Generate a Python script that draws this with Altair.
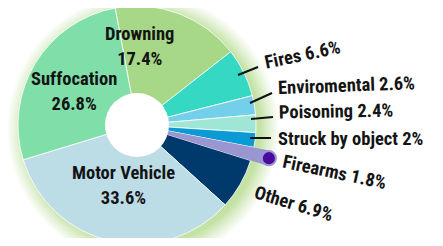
import math
import altair as alt
import pandas as pd

# ---- data ----
categories = ["Drowning", "Fires", "Enviromental", "Poisoning", "Struck by object",
              "Firearms", "Other", "Motor Vehicle", "Suffocation"]
values = [17.4, 6.6, 2.6, 2.4, 2.0, 1.8, 6.9, 33.6, 26.8]
value_labels = ["17.4%", "6.6%", "2.6%", "2.4%", "2%", "1.8%", "6.9%", "33.6%", "26.8%"]
colors = ["#a6d888", "#35d8c3", "#74cfea", "#9fe6d6", "#0a9ad4",
          "#9a96d2", "#003a6c", "#bddde6", "#80dfa9"]

# ---- layout ----
W, H = 427, 230
CX, CY = 129, 117
R, R_IN, R_FIRE = 119, 32, 136
T0 = math.radians(-10.6)
FONT = "Roboto Condensed, Liberation Sans Narrow, Roboto, sans-serif"
TXT = "#141414"

df = pd.DataFrame({"cat": categories, "value": values, "label": value_labels,
                   "idx": list(range(len(categories)))})
total = sum(values)
mid = {}
acc = 0.0
for c, v in zip(categories, values):
    mid[c] = T0 + 2 * math.pi * (acc + v / 2) / total
    acc += v


def polar(theta, r):
    return CX + r * math.sin(theta), CY - r * math.cos(theta)


theta_enc = alt.Theta("value:Q", stack=True,
                      scale=alt.Scale(range=[T0, T0 + 2 * math.pi]))
order_enc = alt.Order("idx:Q")
color_enc = alt.Color("cat:N", scale=alt.Scale(domain=categories, range=colors), legend=None)

one = pd.DataFrame({"g": [1]})
glow = alt.Chart(one).mark_arc(
    radius=136, theta=0, theta2=2 * math.pi,
    color={"gradient": "radial", "x1": 0.5, "y1": 0.5, "r1": 0,
           "x2": 0.5, "y2": 0.5, "r2": 0.5,
           "stops": [{"offset": 0, "color": "#c4e2a4"},
                     {"offset": 0.86, "color": "#c4e2a4"},
                     {"offset": 0.93, "color": "#e2f1d4"},
                     {"offset": 1, "color": "#ffffff"}]}
).encode(x=alt.value(CX + 6), y=alt.value(CY + 4))

pie = alt.Chart(df).mark_arc(radius=R, stroke="white", strokeWidth=0.8).encode(
    theta=theta_enc, order=order_enc, color=color_enc,
    x=alt.value(CX), y=alt.value(CY))

fire_wedge = alt.Chart(df).mark_arc(radius=R_FIRE).encode(
    theta=theta_enc, order=order_enc, color=color_enc,
    opacity=alt.condition(alt.datum.cat == "Firearms", alt.value(1), alt.value(0)),
    x=alt.value(CX), y=alt.value(CY))

hole = alt.Chart(one).mark_arc(radius=R_IN, theta=0, theta2=2 * math.pi, color="white").encode(
    x=alt.value(CX), y=alt.value(CY))

fx, fy = polar(mid["Firearms"], R_FIRE)
fire_dot = alt.Chart(pd.DataFrame({"x": [fx], "y": [fy]})).mark_circle(
    size=200, color="#4a0a9e", opacity=1, stroke="#9a96d2", strokeWidth=2
).encode(x=alt.X("x:Q", scale=None, axis=None), y=alt.Y("y:Q", scale=None, axis=None))

# inner labels: angle nudge (deg) and radius
inner_layout = {"Drowning": (-18.7, 79), "Suffocation": (-3.5, 71), "Motor Vehicle": (0, 62)}
rows = []
for c, (nudge, r) in inner_layout.items():
    x, y = polar(mid[c] + math.radians(nudge), r)
    rows.append({"x": x, "y": y - 12.5, "t": c + "\n" + value_labels[categories.index(c)]})
inner = alt.Chart(pd.DataFrame(rows)).mark_text(
    font=FONT, fontSize=18.5, fontWeight="bold", color=TXT, lineBreak="\n", lineHeight=25,
    align="center", baseline="middle"
).encode(x=alt.X("x:Q", scale=None, axis=None), y=alt.Y("y:Q", scale=None, axis=None),
         text="t:N")

# outer labels: anchor (x, y) and rotation
outer_layout = {"Fires": (257, 55, 348), "Enviromental": (270, 80, 358),
                "Poisoning": (271, 104.5, 359), "Struck by object": (270, 131, 0),
                "Firearms": (275, 153.5, 12), "Other": (247, 184, 17)}
rows = []
for c, (x, y, a) in outer_layout.items():
    rows.append({"x": x, "y": y, "a": a, "t": c + " " + value_labels[categories.index(c)]})
outer = alt.Chart(pd.DataFrame(rows)).mark_text(
    font=FONT, fontSize=18.5, fontWeight="bold", color=TXT, align="left", baseline="middle"
).encode(x=alt.X("x:Q", scale=None, axis=None), y=alt.Y("y:Q", scale=None, axis=None),
         text="t:N", angle=alt.Angle("a:Q", scale=None))

leaders = pd.DataFrame({
    "x": [230, 242, 243, 242], "y": [67, 95, 111, 130],
    "x2": [250, 264, 265, 263], "y2": [59, 85, 109, 130]})
lead = alt.Chart(leaders).mark_rule(color="#111111", strokeWidth=2).encode(
    x=alt.X("x:Q", scale=None, axis=None), y=alt.Y("y:Q", scale=None, axis=None),
    x2="x2:Q", y2="y2:Q")

chart = alt.layer(glow, pie, fire_wedge, hole, fire_dot, lead, inner, outer).properties(
    width=W, height=H, autosize=alt.AutoSizeParams(type="none"), padding=0
).configure_view(stroke=None)

chart.save("out.html", embed_options={"renderer": "svg", "actions": False})
